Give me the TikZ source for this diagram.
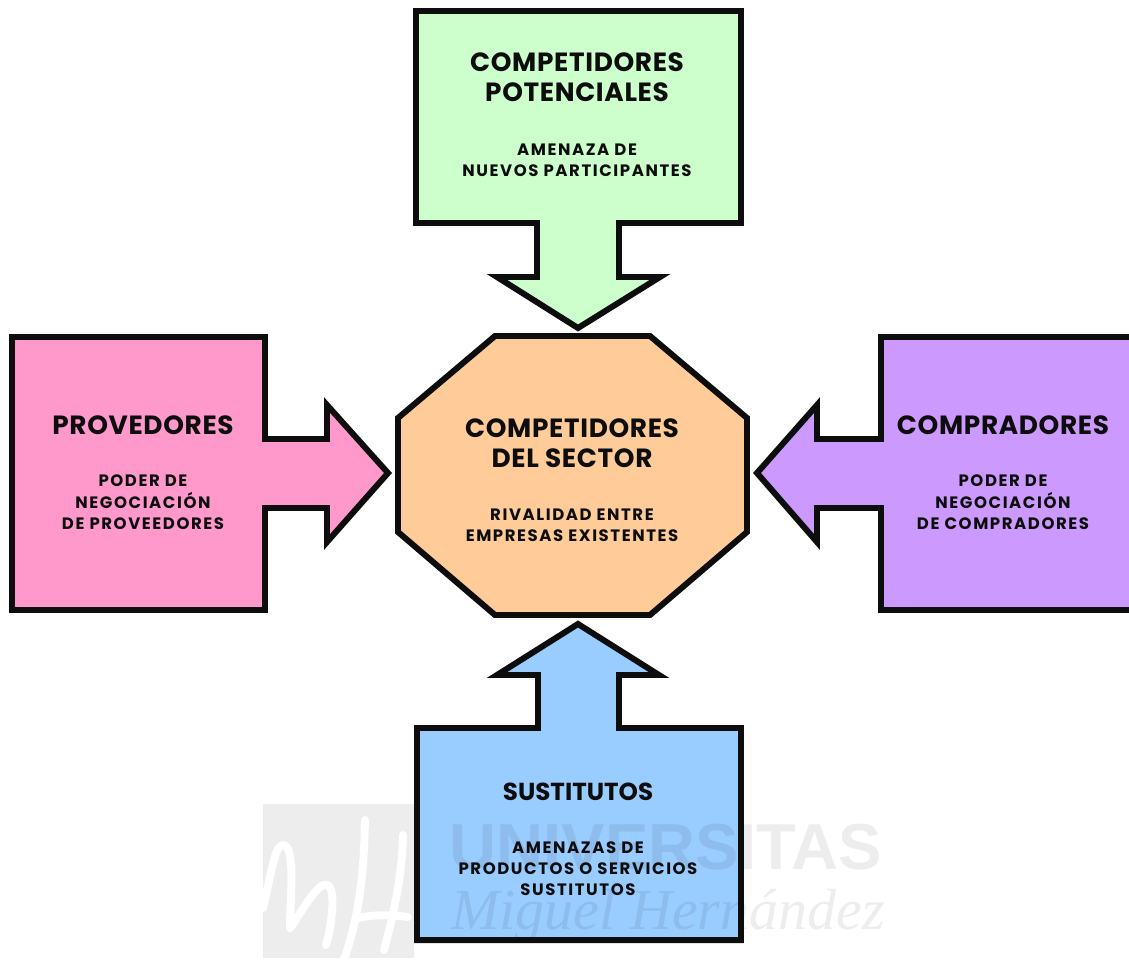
\documentclass[tikz,border=0pt]{standalone}
\usepackage{fontspec}
\setmainfont{Poppins}
\newfontfamily\markfont{Liberation Sans}
\newfontfamily\markitfont{Liberation Serif}
\usepackage{tikz}
\usetikzlibrary{positioning}

\definecolor{verdepot}{HTML}{CCFFCC}
\definecolor{rosaprov}{HTML}{FF99CC}
\definecolor{moradocomp}{HTML}{CC99FF}
\definecolor{azulsus}{HTML}{99CCFF}
\definecolor{naranjasec}{HTML}{FFCC99}

\tikzset{
	forma/.style={draw=black!95, line width=3.4pt, miter limit=10},
	titulo/.style={align=center, inner sep=0pt, text=black!95, font=\fontsize{15}{17}\selectfont\bfseries\addfontfeature{LetterSpace=2.5}},
	sub/.style={align=center, inner sep=0pt, text=black!95, font=\fontsize{9.4}{12}\selectfont\bfseries\addfontfeature{LetterSpace=9.5}},
	marca/.style={inner sep=0pt, text=black, text opacity=0.07},
}

\begin{document}
\begin{tikzpicture}[x=0.02cm, y=-0.02cm]
		\useasboundingbox (0,0) rectangle (1129,974);

		\draw[forma, fill=verdepot] (416,11) -- (741,11) -- (741,223) -- (619,223) -- (619,277) -- (660,277) -- (578,328) -- (497,277) -- (537,277) -- (537,223) -- (416,223) -- cycle;
		\draw[forma, fill=rosaprov] (12,337) -- (265,337) -- (265,439) -- (327,439) -- (327,405) -- (388,473) -- (327,542) -- (327,508) -- (265,508) -- (265,610) -- (12,610) -- cycle;
		\draw[forma, fill=moradocomp] (1140,337) -- (881,337) -- (881,439) -- (817,439) -- (817,405) -- (757,473) -- (817,542) -- (817,508) -- (881,508) -- (881,610) -- (1140,610) -- cycle;
		\draw[forma, fill=azulsus] (417,940) -- (741,940) -- (741,728) -- (619,728) -- (619,675) -- (659,675) -- (578,624) -- (497,675) -- (538,675) -- (538,728) -- (417,728) -- cycle;
		\draw[forma, fill=naranjasec] (495,336) -- (650,336) -- (747,418) -- (747,532) -- (650,615) -- (495,615) -- (398,532) -- (398,418) -- cycle;

		\fill[black!7] (263,804) rectangle (414,958);
		\draw[white, line width=4.5pt, line cap=round, line join=round] (263,908) .. controls (272,870) and (275,845) .. (283,845) .. controls (296,845) and (290,900) .. (290,928) .. controls (300,915) and (318,880) .. (328,885) .. controls (336,890) and (332,925) .. (326,945);
		\draw[white, line width=4.5pt, line cap=round] (365,820) .. controls (364,870) and (360,920) .. (340,970);
		\draw[white, line width=4.5pt, line cap=round] (403,835) .. controls (402,880) and (392,920) .. (384,950);
		\draw[white, line width=4.5pt, line cap=round] (358,918) .. controls (375,914) and (395,915) .. (408,917);

		\node[marca, font=\fontsize{37}{37}\selectfont\markfont\bfseries] (univ) at (666,847) {UNIVERSITAS};
		\node[marca, font=\fontsize{33}{33}\selectfont\markitfont\itshape] (miguel) at (668,916) {Miguel Hernández};

		\node[titulo] (tpot) at (577,77) {COMPETIDORES\\POTENCIALES};
		\node[sub, below=0.83cm of tpot] (spot) {AMENAZA DE\\NUEVOS PARTICIPANTES};

		\node[titulo] (tsec) at (572,443) {COMPETIDORES\\DEL SECTOR};
		\node[sub, below=0.81cm of tsec] (ssec) {RIVALIDAD ENTRE\\EMPRESAS EXISTENTES};

		\node[titulo] (tprov) at (143,425) {PROVEDORES};
		\node[sub, below=0.8cm of tprov] (sprov) {PODER DE\\NEGOCIACIÓN\\DE PROVEEDORES};

		\node[titulo] (tcomp) at (1003,425) {COMPRADORES};
		\node[sub, below=0.8cm of tcomp] (scomp) {PODER DE\\NEGOCIACIÓN\\DE COMPRADORES};

		\node[titulo, font=\fontsize{14}{17}\selectfont\bfseries] (tsus) at (578,792) {SUSTITUTOS};
		\node[sub, below=0.8cm of tsus] (ssus) {AMENAZAS DE\\PRODUCTOS O SERVICIOS\\SUSTITUTOS};
	\end{tikzpicture}
\end{document}
